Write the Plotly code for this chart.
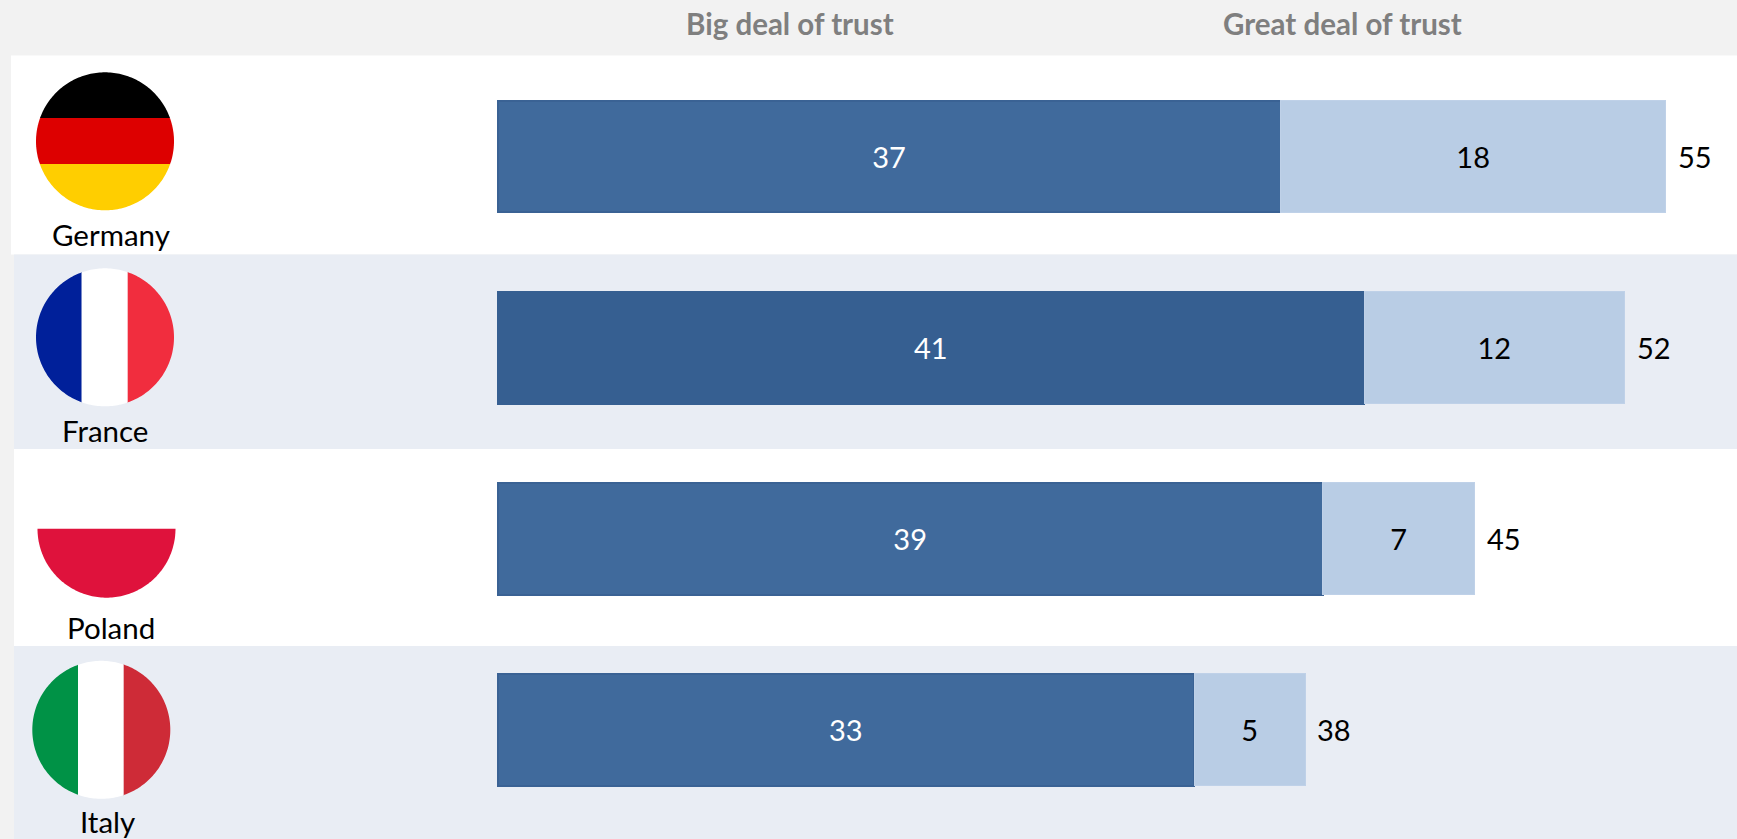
import math
import plotly.graph_objects as go

countries = ["Germany", "France", "Poland", "Italy"]
big_deal = [37.03, 40.97, 39.02, 32.94]
great_deal = [18.2, 12.32, 7.18, 5.24]
big_labels = ["37", "41", "39", "33"]
great_labels = ["18", "12", "7", "5"]
total_labels = ["55", "52", "45", "38"]
series_names = ["Big deal of trust", "Great deal of trust"]

W, H = 1737, 839
FONT = "Lato"
NUM_SIZE = 29
NAME_SIZE = 29.5
PX_PER_UNIT = 21.15
X0 = 497.5
ROW0, ROW_STEP = 156.5, 191.1
DARK = ["#406A9C", "#365F91", "#406A9C", "#406A9C"]
DARK_LINE = ["#3A6294", "#365F91", "#3A6294", "#3A6294"]
LIGHT = "#B9CDE5"
BAND = "#E9EDF4"


def px(x):
    return x / W


def py(y):
    return 1 - y / H


def rect(x0, y0, x1, y1, color):
    return dict(type="rect", xref="paper", yref="paper", x0=px(x0), x1=px(x1), y0=py(y0), y1=py(y1),
                fillcolor=color, line_width=0, layer="below")


def clipped_circle(cx, cy, r, color, xlim=(-1e9, 1e9), ylim=(-1e9, 1e9)):
    pts = []
    for i in range(240):
        a = 2 * math.pi * i / 240
        x = min(max(cx + r * math.cos(a), xlim[0]), xlim[1])
        y = min(max(cy + r * math.sin(a), ylim[0]), ylim[1])
        pts.append(f"{px(x):.5f},{py(y):.5f}")
    return dict(type="path", xref="paper", yref="paper", path="M" + " L".join(pts) + " Z",
                fillcolor=color, line_width=0, layer="above")


shapes = [
    rect(11, 55.5, W, 254.5, "#FFFFFF"),
    rect(14, 254.5, W, 449, BAND),
    rect(14, 449, W, 646, "#FFFFFF"),
    rect(14, 646, W, H, BAND),
]
# Germany
shapes += [
    clipped_circle(105, 141.3, 69, "#000000", ylim=(0, 118)),
    clipped_circle(105, 141.3, 69, "#DD0000", ylim=(118, 164)),
    clipped_circle(105, 141.3, 69, "#FFCE00", ylim=(164, 300)),
]
# France
shapes += [
    clipped_circle(105, 337.3, 69, "#00209A", xlim=(0, 81.7)),
    clipped_circle(105, 337.3, 69, "#FFFFFF", xlim=(81.7, 127.7)),
    clipped_circle(105, 337.3, 69, "#F12D3E", xlim=(127.7, 300)),
]
# Poland
shapes += [clipped_circle(106.5, 528.7, 69, "#DF123C", ylim=(528.7, 700))]
# Italy
shapes += [
    clipped_circle(101.3, 729.8, 69, "#009246", xlim=(0, 78)),
    clipped_circle(101.3, 729.8, 69, "#FFFFFF", xlim=(78, 123.7)),
    clipped_circle(101.3, 729.8, 69, "#CE2B37", xlim=(123.7, 300)),
]

fig = go.Figure()
fig.add_bar(y=countries, x=big_deal, name=series_names[0], orientation="h", width=0.585,
            marker=dict(color=DARK, line=dict(color=DARK_LINE, width=2)),
            text=big_labels, textposition="inside", insidetextanchor="middle",
            textfont=dict(color="#FFFFFF", size=NUM_SIZE, family=FONT), textangle=0)
fig.add_bar(y=countries, x=great_deal, name=series_names[1], orientation="h", width=0.585,
            marker=dict(color=LIGHT, line=dict(color="#BFD1E8", width=1)),
            text=great_labels, textposition="inside", insidetextanchor="middle",
            textfont=dict(color="#000000", size=NUM_SIZE, family=FONT), textangle=0)

annotations = []
for name, a, b, t in zip(countries, big_deal, great_deal, total_labels):
    annotations.append(dict(x=a + b, y=name, xref="x", yref="y", text=t, showarrow=False,
                            xanchor="left", xshift=10, font=dict(size=NUM_SIZE, color="#000000", family=FONT)))

label_pos = {"Germany": (111, 234), "France": (105, 430), "Poland": (111, 627), "Italy": (107.5, 821)}
for name in countries:
    lx, ly = label_pos[name]
    annotations.append(dict(x=px(lx), y=py(ly), xref="paper", yref="paper", text=name, showarrow=False,
                            xanchor="center", yanchor="middle", font=dict(size=NAME_SIZE, color="#000000", family=FONT)))

for name, cx in zip(series_names, [790, 1342]):
    annotations.append(dict(x=px(cx), y=py(24), xref="paper", yref="paper", text=f"<b>{name}</b>", showarrow=False,
                            xanchor="center", yanchor="middle", font=dict(size=NAME_SIZE, color="#7F7F7F", family=FONT)))

fig.update_layout(
    width=W, height=H, autosize=False,
    margin=dict(l=0, r=0, t=0, b=0, pad=0),
    paper_bgcolor="#F2F2F2", plot_bgcolor="rgba(0,0,0,0)",
    barmode="stack", showlegend=False,
    shapes=shapes, annotations=annotations,
    xaxis=dict(range=[-X0 / PX_PER_UNIT, (W - X0) / PX_PER_UNIT], visible=False, fixedrange=True),
    yaxis=dict(type="category", categoryorder="array", categoryarray=countries,
               range=[(H - ROW0) / ROW_STEP, -ROW0 / ROW_STEP], visible=False, fixedrange=True),
)
fig.write_html("out.html", config={"displayModeBar": False},
               post_script="document.body.style.margin='0';document.documentElement.style.overflow='hidden';")
